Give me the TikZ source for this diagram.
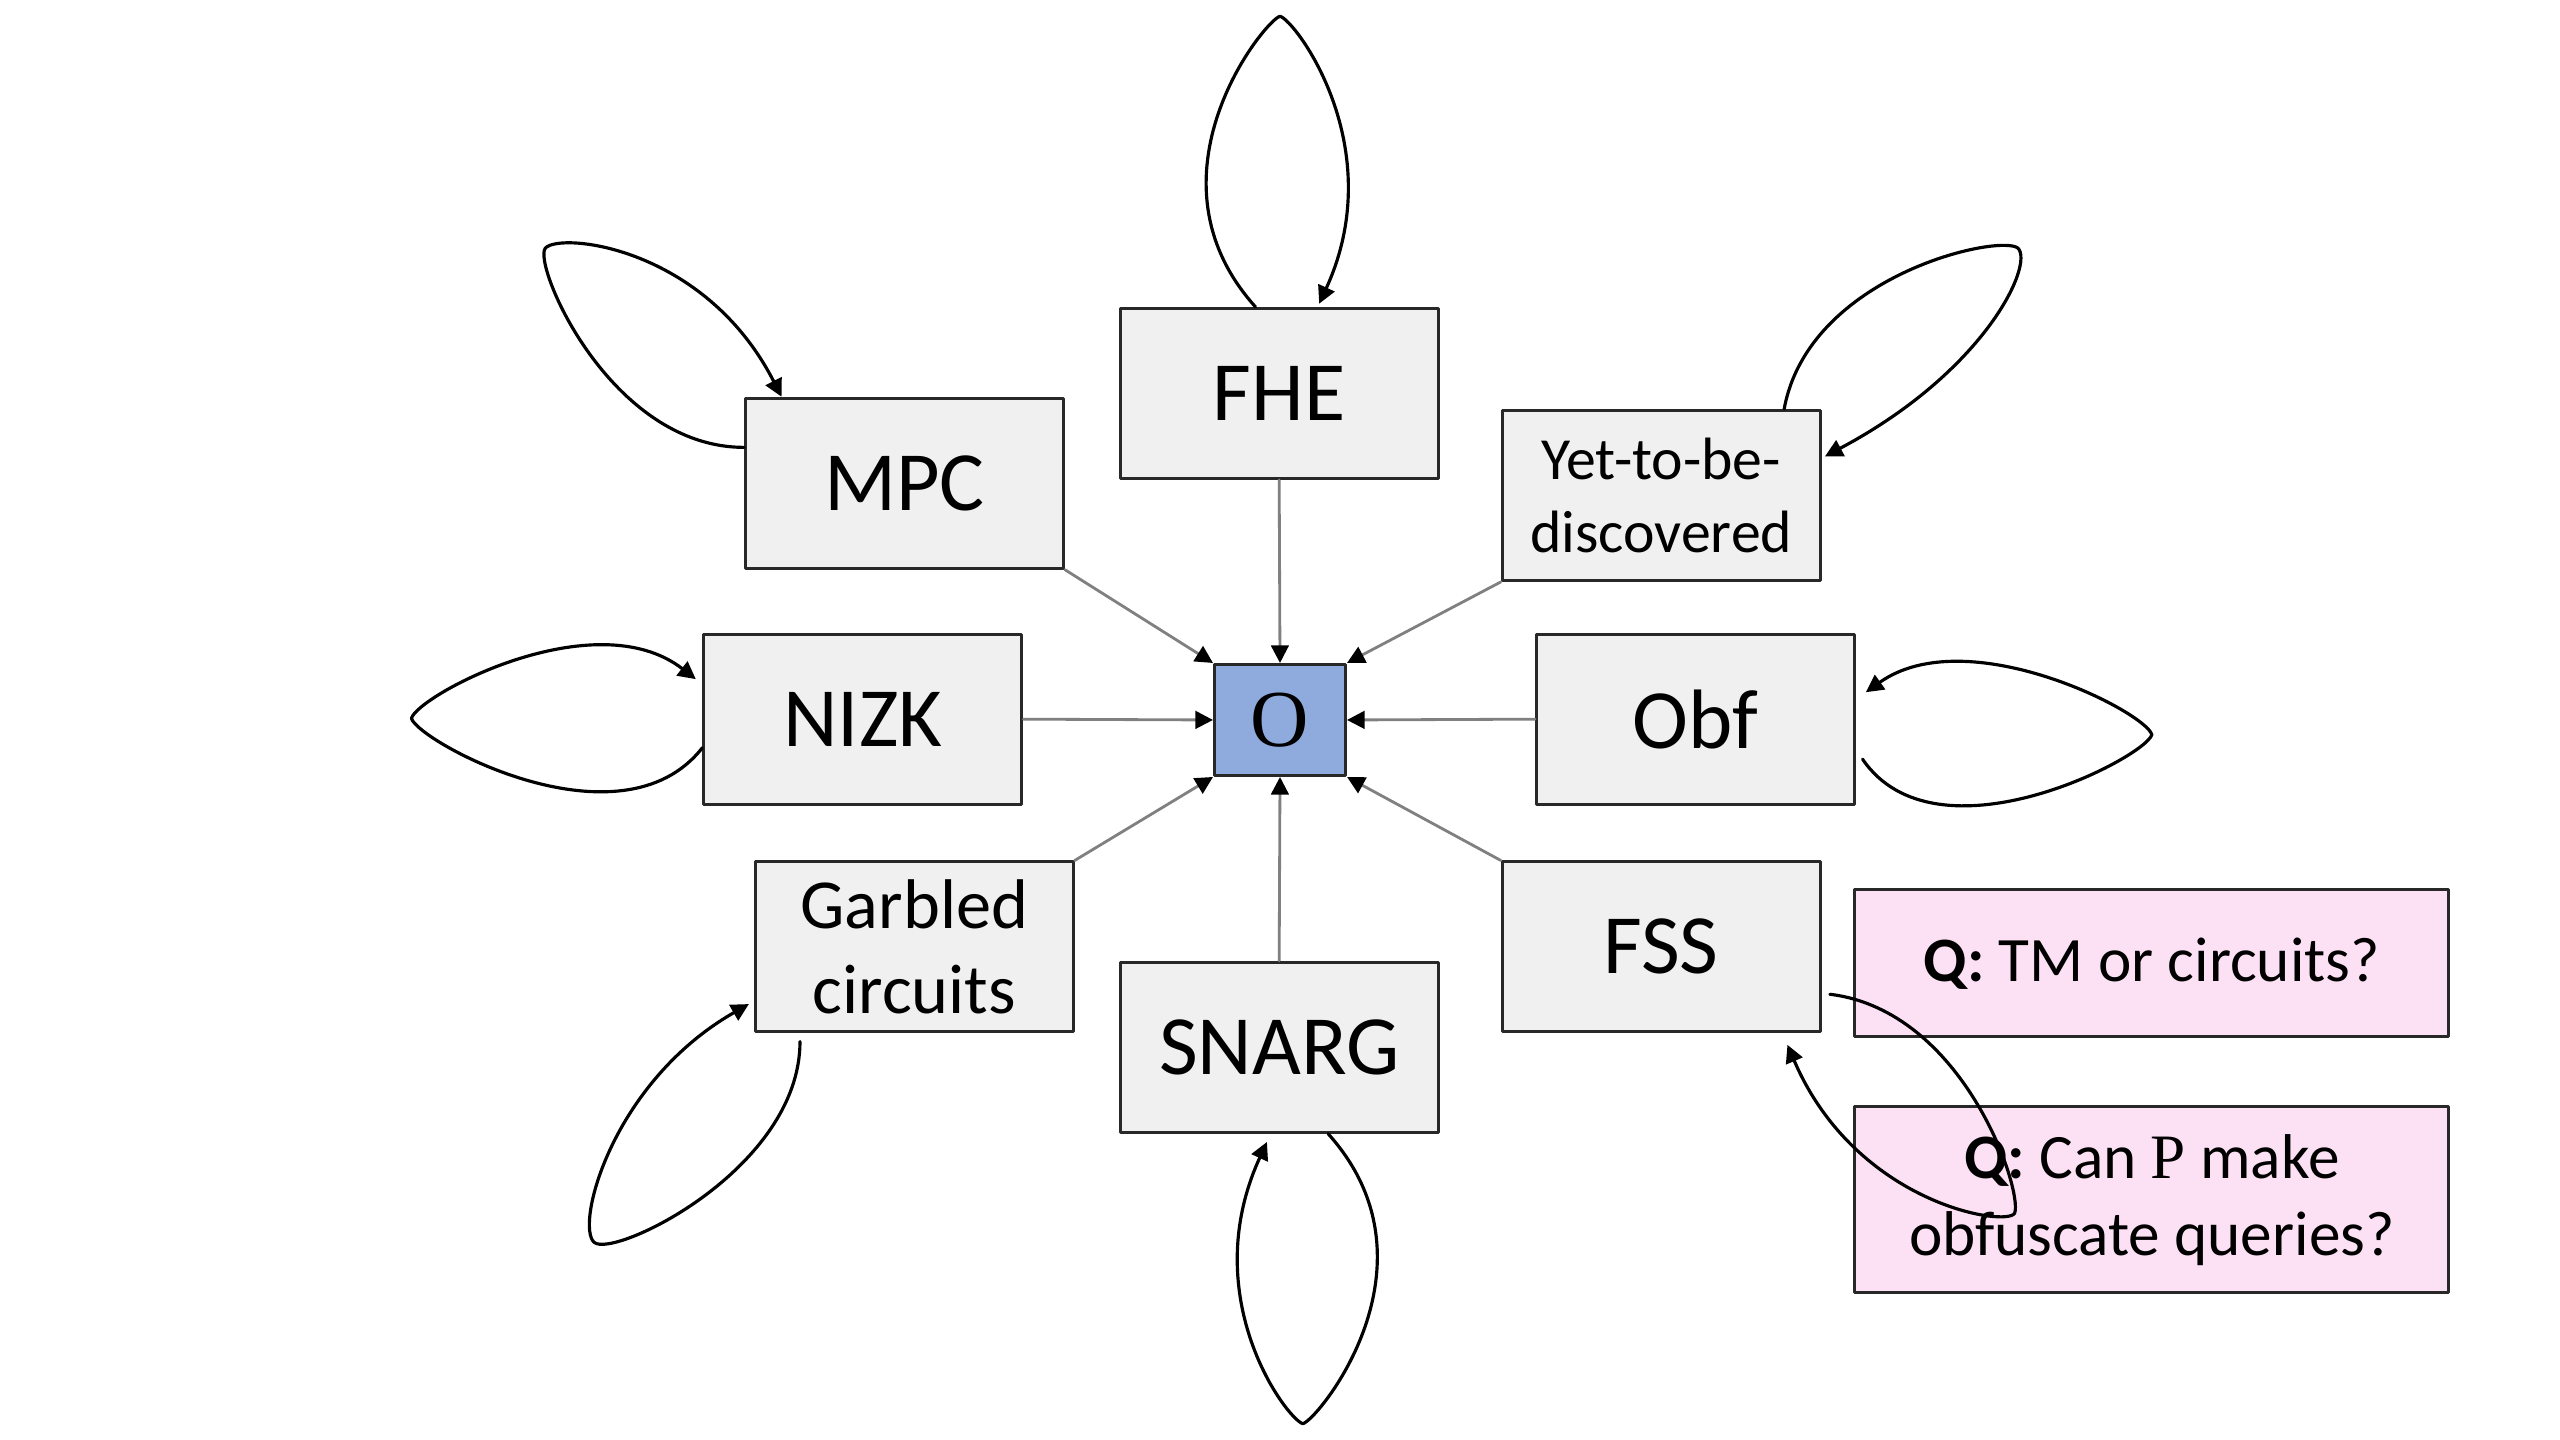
\documentclass[tikz,border=0pt]{standalone}
\usepackage{fontspec}
\setmainfont{Carlito}
\newfontfamily\serifface{Liberation Serif}
\usetikzlibrary{arrows.meta, calc}

\definecolor{boxgray}{RGB}{240,240,240}
\definecolor{boxline}{RGB}{40,40,40}
\definecolor{oblue}{RGB}{143,170,220}
\definecolor{qpink}{RGB}{252,225,245}

\tikzset{
    box/.style={draw=boxline, fill=boxgray, line width=0.85pt, minimum width=3.18cm, minimum height=1.70cm, inner sep=0pt, align=center, font=\fontsize{24}{28}\selectfont},
    obox/.style={draw=boxline, fill=oblue, line width=0.85pt, minimum width=1.31cm, minimum height=1.11cm, inner sep=0pt, font=\fontsize{23}{27}\selectfont},
    qbox/.style={draw=boxline, fill=qpink, line width=0.85pt, minimum width=5.94cm, inner sep=0pt, align=center, font=\fontsize{18}{22}\selectfont},
    feed/.style={draw=black!50, line width=0.8pt, -{Triangle[length=5pt,width=5pt,color=black]}},
    selfloop/.style={draw=black, line width=0.9pt, -{Triangle[length=5pt,width=5pt]}}
}

\begin{document}
\begin{tikzpicture}[line cap=round,line join=round,x=0.016327cm,y=0.016327cm]
    \useasboundingbox (0,0) rectangle (1568,882);

    % centre
    \draw (784,441) node[obox] (O) {\serifface O};

    \draw (783.5,641) node[box] (FHE) {FHE};
    \draw (554,586) node[box] (MPC) {MPC};
    \draw (1017.5,578.5) node[box, font=\fontsize{17}{20.5}\selectfont] (YTBD) {Yet-to-be-\\discovered};
    \draw (528.5,441.5) node[box] (NIZK) {NIZK};
    \draw (1038.5,441.5) node[box] (OBF) {Obf};
    \draw (560,302) node[box, font=\fontsize{20}{24}\selectfont] (GC) {Garbled\\circuits};
    \draw (783.5,240.5) node[box] (SNARG) {SNARG};
    \draw (1017.5,302) node[box] (FSS) {FSS};

    % questions
    \draw (1318,292) node[qbox, minimum height=1.47cm] (QA) {\textbf{Q:} TM or circuits?};
    \draw (1318,147) node[qbox, minimum height=1.86cm] (QB) {\textbf{Q:} Can {\serifface P} make\\obfuscate queries?};

    \draw[feed] (FHE.south) -- (O.north);
    \draw[feed] (SNARG.north) -- (O.south);
    \draw[feed] (NIZK.east) -- (O.west);
    \draw[feed] (OBF.west) -- (O.east);
    \draw[feed] (MPC.south east) -- (O.north west);
    \draw[feed] (YTBD.south west) -- (O.north east);
    \draw[feed] (GC.north east) -- (O.south west);
    \draw[feed] (FSS.north west) -- (O.south east);

    % self loops
    \coordinate (FHEtop) at (784,872);
    \coordinate (MPCtop) at (334,730);
    \coordinate (YTBDtop) at (1236,730);
    \coordinate (NIZKtop) at (252,442);
    \coordinate (OBFtop) at (1318,432);
    \coordinate (GCtop) at (364,121);
    \coordinate (SNARGtop) at (798,10);
    \coordinate (FSStop) at (1234,139);

    \draw[selfloop] ($(FHE.north)+(-14.5,0)$) .. controls +(-72,80) and +(-9,-2) .. (FHEtop) .. controls +(9,-2) and +(44,96) .. ($(FHE.north)+(24.5,2)$);
    \draw[selfloop] ($(MPC.north west)+(0,-31)$) .. controls +(-82,0) and +(-8,-10) .. (MPCtop) .. controls +(9,10) and +(-47,92) .. ($(MPC.north west)+(23,0)$);
    \draw[selfloop] ($(YTBD.north east)+(-23,0)$) .. controls +(15,82) and +(-11,9) .. (YTBDtop) .. controls +(10,-10) and +(98,52) .. ($(YTBD.north east)+(2,-29)$);
    \draw[selfloop] ($(NIZK.west)+(0,-17.5)$) .. controls +(-50,-64) and +(4,-14) .. (NIZKtop) .. controls +(4,14) and +(-62,48) .. ($(NIZK.west)+(-4,24.5)$);
    \draw[selfloop] ($(OBF.east)+(4,-24.5)$) .. controls +(45,-66) and +(-4,-14) .. (OBFtop) .. controls +(-4,14) and +(62,44) .. ($(OBF.east)+(6,16.5)$);
    \draw[selfloop] ($(GC.south)+(-70,-5)$) .. controls +(0,-78) and +(12,-10) .. (GCtop) .. controls +(-12,10) and +(-84,-48) .. ($(GC.west)+(-3,-35)$);
    \draw[selfloop] ($(SNARG.south)+(30,0)$) .. controls +(72,-80) and +(9,2) .. (SNARGtop) .. controls +(-9,2) and +(-44,-96) .. ($(SNARG.south)+(-7.5,-5)$);
    \draw[selfloop] ($(FSS.east)+(5,-29)$) .. controls +(82,-10) and +(5,14) .. (FSStop) .. controls +(-4,-9) and +(42,-98) .. ($(FSS.south east)+(-21,-7)$);

\end{tikzpicture}
\end{document}
